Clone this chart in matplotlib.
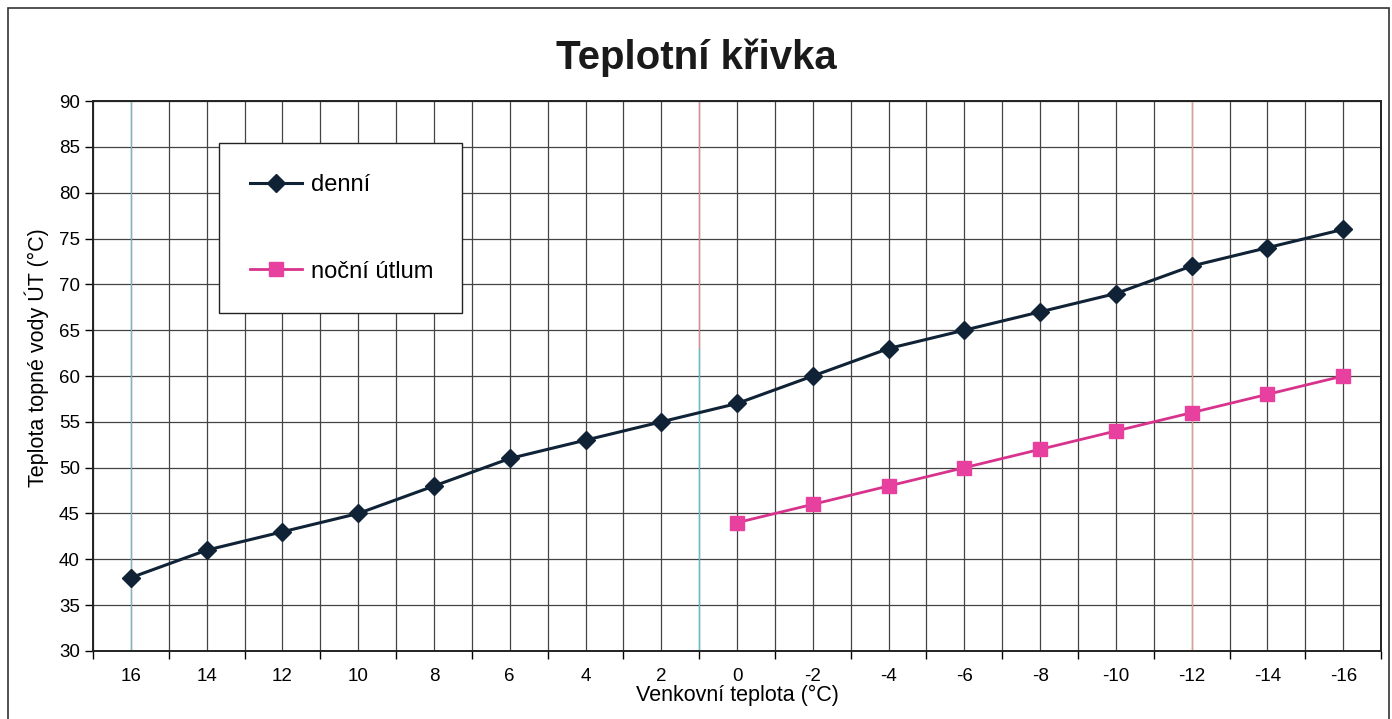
import numpy as np
import matplotlib.pyplot as plt
from matplotlib.patches import Rectangle

plt.rcParams['font.family'] = ['Liberation Sans', 'DejaVu Sans']

# venkovni teplota (kategorie na ose x)
venkovni = [16, 14, 12, 10, 8, 6, 4, 2, 0, -2, -4, -6, -8, -10, -12, -14, -16]
# teplota topne vody - denni rezim
denni = [38, 41, 43, 45, 48, 51, 53, 55, 57, 60, 63, 65, 67, 69, 72, 74, 76]
# nocni utlum - az od 0 °C
nocni_x = [0, -2, -4, -6, -8, -10, -12, -14, -16]
nocni = [44, 46, 48, 50, 52, 54, 56, 58, 60]

pos = np.arange(len(venkovni))
pos_nocni = [venkovni.index(v) for v in nocni_x]

fig = plt.figure(figsize=(13.92, 7.19), dpi=100)
ax = fig.add_axes([0.0668, 0.0946, 0.9254, 0.7649])

# outer frame like the spreadsheet chart area
fig.patches.append(Rectangle((0.006, -0.01), 0.992, 0.999, transform=fig.transFigure,
                             fill=False, edgecolor='#333333', linewidth=1.2))

ax.plot(pos, denni, color='#0f2236', lw=2.2, marker='D', ms=9, mfc='#0f2236',
        mec='#0f2236', label='denní', zorder=3)
ax.plot(pos_nocni, nocni, color='#d8338c', lw=2.0, marker='s', ms=10, mfc='#e8409e',
        mec='#e8409e', label='noční útlum', zorder=3)

ax.set_xlim(-0.5, len(venkovni) - 0.5)
ax.set_ylim(30, 90)
ax.set_yticks(range(30, 91, 5))
ax.set_xticks(pos)
ax.set_xticklabels([str(v) for v in venkovni])
ax.set_xticks(np.arange(-0.5, len(venkovni), 1), minor=True)
ax.tick_params(axis='x', which='major', length=0, pad=12, labelsize=13.5)
ax.tick_params(axis='x', which='minor', length=6, width=1, direction='out')
ax.tick_params(axis='y', length=6, width=1, labelsize=13.5)

ax.grid(True, which='both', axis='x', color='#444444', lw=0.9)
ax.grid(True, which='major', axis='y', color='#444444', lw=0.9)
ax.set_axisbelow(True)

# a few tinted grid lines from the scanned original
ax.axvline(0, color='#7fb8c4', lw=0.9, zorder=1)
ax.axvline(7.5, color='#e08890', lw=0.9, zorder=1, ymin=0.55)
ax.axvline(7.5, color='#5cc0d0', lw=0.9, zorder=1, ymax=0.55)
ax.axvline(14, color='#e0a090', lw=0.9, zorder=1)

for s in ax.spines.values():
    s.set_color('#222222')
    s.set_linewidth(1.4)

ax.set_xlabel('Venkovní teplota (°C)', fontsize=15.5)
ax.xaxis.set_label_coords(0.5, -0.062)
ax.set_ylabel('Teplota topné vody ÚT (°C)', fontsize=15.5)
ax.yaxis.set_label_coords(-0.034, 0.533)
fig.text(0.5, 0.92, 'Teplotní křivka', ha='center', va='center',
         fontsize=29, fontweight='bold', color='#1a1a1a')

leg = ax.legend(loc='upper left', bbox_to_anchor=(0.0978, 0.6145, 0.1887, 0.309),
                mode='expand', fontsize=17, labelspacing=2.75, borderpad=1.3,
                handlelength=2.2, handletextpad=0.4, borderaxespad=0,
                fancybox=False, framealpha=1, edgecolor='#222222')
leg.get_frame().set_linewidth(1.0)

fig.savefig('out.png', dpi=100)
